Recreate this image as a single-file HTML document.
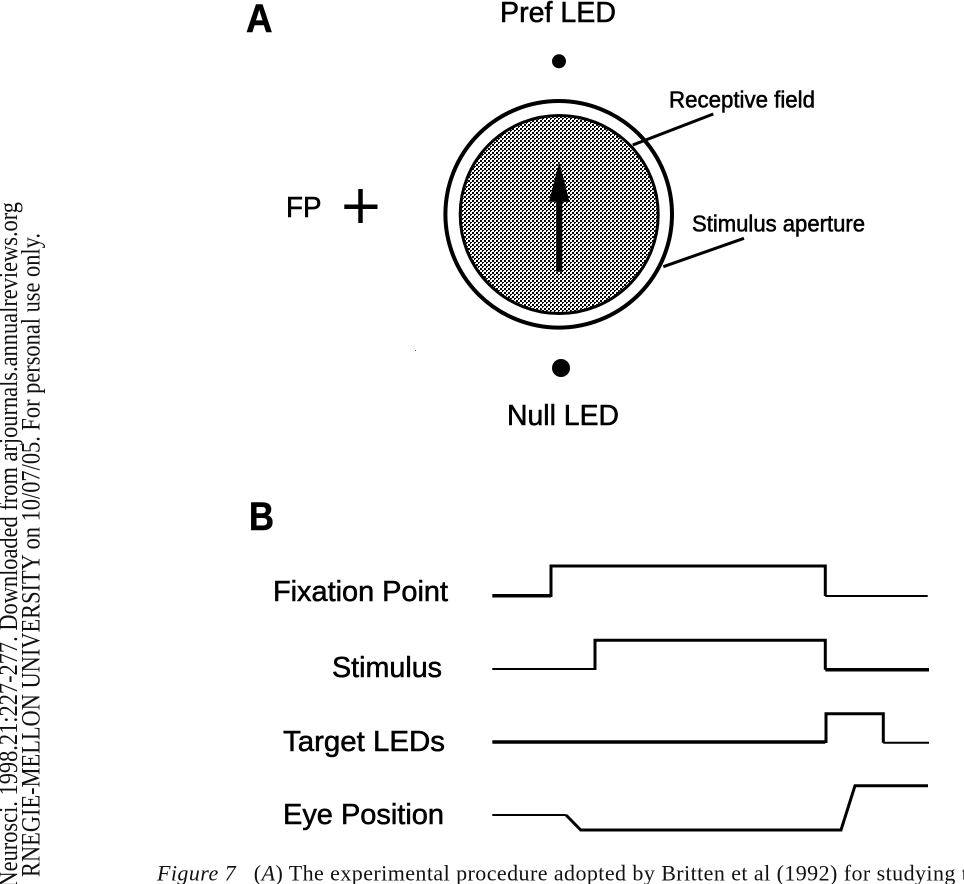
<!DOCTYPE html>
<html><head><meta charset="utf-8"><style>
html,body{margin:0;padding:0;background:#fff;width:964px;height:884px;overflow:hidden}
svg{display:block}
.s{font-family:"Liberation Sans",sans-serif;fill:#000;stroke:#000;stroke-width:.55}
.r{font-family:"Liberation Serif",serif;fill:#111}
</style></head><body>
<svg width="964" height="884" viewBox="0 0 964 884" xmlns="http://www.w3.org/2000/svg">
<defs><pattern id="h" width="4" height="4" patternUnits="userSpaceOnUse" shape-rendering="crispEdges">
<rect width="4" height="4" fill="#fff"/><rect width="2" height="2" fill="#000"/><path d="M2 2H4V3H3V4H2Z" fill="#000"/>
</pattern></defs>
<rect width="964" height="884" fill="#fff"/>
<text class="s" font-weight="700" font-size="40" x="246" y="32" textLength="26.5" lengthAdjust="spacingAndGlyphs">A</text>
<text class="s" font-weight="700" font-size="40" x="249" y="530" textLength="25" lengthAdjust="spacingAndGlyphs">B</text>
<g stroke="#000" fill="none">
<circle cx="558.7" cy="214.3" r="113.3" stroke-width="4"/>
<circle cx="559.2" cy="214.5" r="99" stroke-width="3" fill="url(#h)"/>
<path d="M713.3 114L632.7 145M744 238.3L663.3 266.7" stroke-width="3"/>
<path d="M344.3 206.7H377.5M360.5 189V223" stroke-width="4.5"/>
<path d="M559.2 198V271.7" stroke-width="6"/>
</g>
<path d="M559.2 161.7L569.5 201.7H549Z" fill="#000"/>
<circle cx="559" cy="61.3" r="7" fill="#000"/>
<circle cx="561" cy="368" r="9" fill="#000"/>
<rect x="415" y="350" width="1" height="1" fill="#555"/>
<g class="s" font-size="29">
<text x="500" y="22" textLength="116" lengthAdjust="spacingAndGlyphs">Pref LED</text>
<text x="507" y="425" textLength="112" lengthAdjust="spacingAndGlyphs">Null LED</text>
<text x="286" y="217" textLength="35.5" lengthAdjust="spacingAndGlyphs">FP</text>
<text x="273" y="601" textLength="175" lengthAdjust="spacingAndGlyphs">Fixation Point</text>
<text x="332" y="677" textLength="110" lengthAdjust="spacingAndGlyphs">Stimulus</text>
<text x="283" y="751" textLength="162" lengthAdjust="spacingAndGlyphs">Target LEDs</text>
<text x="283" y="824" textLength="161" lengthAdjust="spacingAndGlyphs">Eye Position</text>
</g>
<g class="s" font-size="23">
<text x="669" y="107.5" textLength="146" lengthAdjust="spacingAndGlyphs">Receptive field</text>
<text x="692" y="231.5" textLength="173" lengthAdjust="spacingAndGlyphs">Stimulus aperture</text>
</g>
<g stroke="#000" fill="none" stroke-linejoin="miter">
<path d="M492.3 595.7H551" stroke-width="3.5"/>
<path d="M551 597V566H825.3V596" stroke-width="3"/>
<path d="M825.3 596H927.7" stroke-width="2"/>
<path d="M492.3 669H595" stroke-width="2"/>
<path d="M595 670V640.3H825.3V669.7" stroke-width="3"/>
<path d="M825.3 669.7H929" stroke-width="3.5"/>
<path d="M492.3 742H825.3" stroke-width="3.5"/>
<path d="M826 743V713.7H883.3V742.7" stroke-width="3"/>
<path d="M883.3 742.7H929" stroke-width="2"/>
<path d="M492.3 815H566" stroke-width="2"/>
<path d="M566 815L580.7 830H841L855 785.7H928" stroke-width="3"/>
</g>
<text class="r" font-size="22" x="157" y="880.5" letter-spacing=".43" xml:space="preserve"><tspan font-style="italic">Figure 7</tspan>   (<tspan font-style="italic">A</tspan>) The experimental procedure adopted by Britten et al (1992) for studying t</text>
<g class="r" font-size="22.4" text-anchor="end">
<text transform="translate(17 202) rotate(-90) scale(1 1.2)">Neurosci. 1998.21:227-277. Downloaded from arjournals.annualreviews.org</text>
<text transform="translate(39.5 233) rotate(-90) scale(1 1.2)">RNEGIE-MELLON UNIVERSITY on 10/07/05. For personal use only.</text>
</g>
</svg>
</body></html>
